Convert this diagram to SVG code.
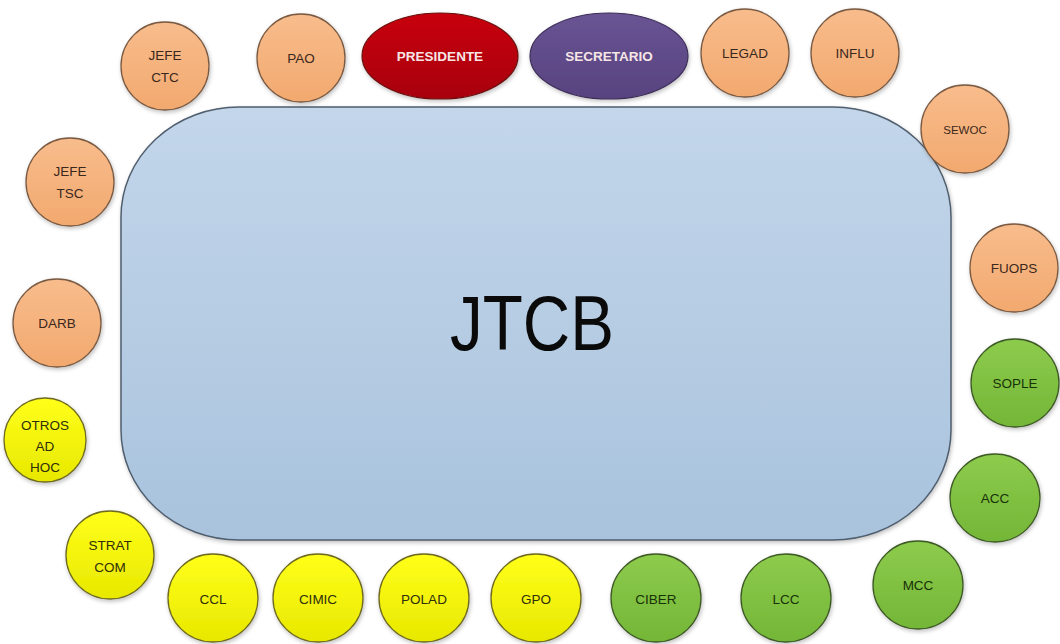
<svg xmlns="http://www.w3.org/2000/svg" width="1060" height="644" viewBox="0 0 1060 644">
<defs>
<linearGradient id="gRect" x1="0" y1="0" x2="0" y2="1"><stop offset="0" stop-color="#C3D6EA"/><stop offset="1" stop-color="#A9C3DD"/></linearGradient>
<linearGradient id="gOr" x1="0" y1="0" x2="0" y2="1"><stop offset="0" stop-color="#F8BC8C"/><stop offset="1" stop-color="#F2A96F"/></linearGradient>
<linearGradient id="gYe" x1="0" y1="0" x2="0" y2="1"><stop offset="0" stop-color="#FFFF1A"/><stop offset="1" stop-color="#E8E800"/></linearGradient>
<linearGradient id="gGr" x1="0" y1="0" x2="0" y2="1"><stop offset="0" stop-color="#8DCB4C"/><stop offset="1" stop-color="#74B637"/></linearGradient>
<linearGradient id="gRed" x1="0" y1="0" x2="0" y2="1"><stop offset="0" stop-color="#C8000A"/><stop offset="1" stop-color="#A80008"/></linearGradient>
<linearGradient id="gPu" x1="0" y1="0" x2="0" y2="1"><stop offset="0" stop-color="#6A5494"/><stop offset="1" stop-color="#57437F"/></linearGradient>
<filter id="sh" x="-20%" y="-20%" width="140%" height="140%"><feGaussianBlur in="SourceAlpha" stdDeviation="2"/><feOffset dx="1" dy="2"/><feComponentTransfer><feFuncA type="linear" slope="0.25"/></feComponentTransfer><feMerge><feMergeNode/><feMergeNode in="SourceGraphic"/></feMerge></filter>
</defs>
<style>
text{font-family:"Liberation Sans","DejaVu Sans",sans-serif;font-size:13.5px;text-anchor:middle}
.or{fill:url(#gOr);stroke:#7A5A42;stroke-width:1.3}
.ye{fill:url(#gYe);stroke:#6E6A20;stroke-width:1.3}
.gr{fill:url(#gGr);stroke:#3E5A26;stroke-width:1.3}
.tor{fill:#3A281C}
.tye{fill:#2E2E0C}
.tgr{fill:#173208}
.tw{fill:#F6E6E6;font-weight:bold}
</style>
<rect width="1060" height="644" fill="#FFFFFF"/>
<g id="connectors"></g>
<g id="JTCB">
<rect x="121" y="107" width="830" height="433" rx="118" ry="110" fill="url(#gRect)" stroke="#4F5E6E" stroke-width="1.5" filter="url(#sh)"/>
<text x="532" y="350" style="font-size:78px" textLength="164" lengthAdjust="spacingAndGlyphs" fill="#0A0A0A">JTCB</text>
</g>
<g id="PRESIDENTE"><ellipse cx="440" cy="56" rx="78" ry="43" fill="url(#gRed)" stroke="#6A1010" stroke-width="1.2" filter="url(#sh)"/><text class="tw" x="440" y="61">PRESIDENTE</text></g>
<g id="SECRETARIO"><ellipse cx="609" cy="56" rx="79" ry="43" fill="url(#gPu)" stroke="#3C2E58" stroke-width="1.2" filter="url(#sh)"/><text class="tw" x="609" y="61">SECRETARIO</text></g>
<g id="JEFE_CTC"><ellipse class="or" cx="165" cy="66" rx="44" ry="44" filter="url(#sh)"/><text class="tor" x="165" y="60">JEFE</text><text class="tor" x="165" y="82">CTC</text></g>
<g id="PAO"><ellipse class="or" cx="301" cy="58" rx="44" ry="44" filter="url(#sh)"/><text class="tor" x="301" y="63">PAO</text></g>
<g id="LEGAD"><ellipse class="or" cx="745" cy="53" rx="44" ry="44" filter="url(#sh)"/><text class="tor" x="745" y="58">LEGAD</text></g>
<g id="INFLU"><ellipse class="or" cx="855" cy="53" rx="44" ry="44" filter="url(#sh)"/><text class="tor" x="855" y="58">INFLU</text></g>
<g id="SEWOC"><ellipse class="or" cx="965" cy="129" rx="44" ry="44" filter="url(#sh)"/><text class="tor" x="965" y="134" style="font-size:11.5px">SEWOC</text></g>
<g id="FUOPS"><ellipse class="or" cx="1014" cy="268" rx="44" ry="44" filter="url(#sh)"/><text class="tor" x="1014" y="273">FUOPS</text></g>
<g id="JEFE_TSC"><ellipse class="or" cx="70" cy="182" rx="44" ry="44" filter="url(#sh)"/><text class="tor" x="70" y="176">JEFE</text><text class="tor" x="70" y="198">TSC</text></g>
<g id="DARB"><ellipse class="or" cx="57" cy="323" rx="44" ry="44" filter="url(#sh)"/><text class="tor" x="57" y="328">DARB</text></g>
<g id="OTROS_AD_HOC"><ellipse class="ye" cx="45" cy="440" rx="41" ry="42" filter="url(#sh)"/><text class="tye" x="45" y="430">OTROS</text><text class="tye" x="45" y="451">AD</text><text class="tye" x="45" y="472">HOC</text></g>
<g id="STRAT_COM"><ellipse class="ye" cx="110" cy="555" rx="44" ry="44" filter="url(#sh)"/><text class="tye" x="110" y="550">STRAT</text><text class="tye" x="110" y="572">COM</text></g>
<g id="CCL"><ellipse class="ye" cx="213" cy="598" rx="45" ry="44" filter="url(#sh)"/><text class="tye" x="213" y="604">CCL</text></g>
<g id="CIMIC"><ellipse class="ye" cx="318" cy="598" rx="45" ry="44" filter="url(#sh)"/><text class="tye" x="318" y="604">CIMIC</text></g>
<g id="POLAD"><ellipse class="ye" cx="424" cy="598" rx="45" ry="44" filter="url(#sh)"/><text class="tye" x="424" y="604">POLAD</text></g>
<g id="GPO"><ellipse class="ye" cx="536" cy="598" rx="45" ry="44" filter="url(#sh)"/><text class="tye" x="536" y="604">GPO</text></g>
<g id="CIBER"><ellipse class="gr" cx="656" cy="598" rx="45" ry="44" filter="url(#sh)"/><text class="tgr" x="656" y="604">CIBER</text></g>
<g id="LCC"><ellipse class="gr" cx="786" cy="598" rx="45" ry="44" filter="url(#sh)"/><text class="tgr" x="786" y="604">LCC</text></g>
<g id="MCC"><ellipse class="gr" cx="918" cy="585" rx="45" ry="44" filter="url(#sh)"/><text class="tgr" x="918" y="590">MCC</text></g>
<g id="ACC"><ellipse class="gr" cx="995" cy="498" rx="45" ry="44" filter="url(#sh)"/><text class="tgr" x="995" y="503">ACC</text></g>
<g id="SOPLE"><ellipse class="gr" cx="1015" cy="383" rx="44" ry="44" filter="url(#sh)"/><text class="tgr" x="1015" y="388">SOPLE</text></g>
</svg>
